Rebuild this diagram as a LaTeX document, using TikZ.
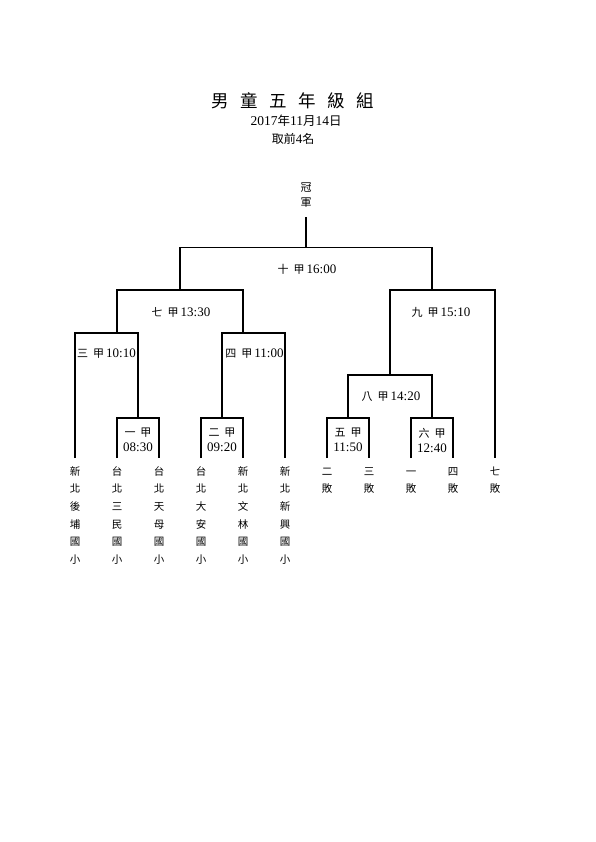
\documentclass[tikz,border=0pt]{standalone}
\usepackage{fontspec}
\setmainfont{Liberation Serif}
\newfontfamily\cjkf{Noto Sans CJK TC}
\newcommand\mlab[3]{{\cjkf\fontsize{11}{12}\selectfont #1\hspace{5pt}#2}\hspace{2pt}#3}
\newcommand\mtwo[3]{{\cjkf\fontsize{11}{12}\selectfont #1\hspace{5pt}#2}\\#3}
\newcommand\fstrut{\rule{0pt}{10pt}}
\begin{document}
\begin{tikzpicture}[x=1pt,y=-1pt,
  br/.style={line width=2pt},
  thinline/.style={line width=1pt},
  lab/.style={inner sep=0pt, align=center, font=\fontsize{13}{15}\selectfont},
  team/.style={anchor=north, inner sep=0pt, align=center, font=\cjkf\fontsize{10.5}{17.6}\selectfont}]
\useasboundingbox (0,0) rectangle (595,842);
% titles
\node[inner sep=0pt, font=\cjkf\fontsize{17.5}{18}\selectfont] (title) at (292.5,101)
  {男\hspace{11.5pt}童\hspace{11.5pt}五\hspace{11.5pt}年\hspace{11.5pt}級\hspace{11.5pt}組};
\node[inner sep=0pt, font=\fontsize{13.5}{16}\selectfont] (date) at (296,121)
  {2017{\cjkf\fontsize{12.5}{14}\selectfont 年}11{\cjkf\fontsize{12.5}{14}\selectfont 月}14{\cjkf\fontsize{12.5}{14}\selectfont 日}};
\node[inner sep=0pt, font=\cjkf\fontsize{12}{14}\selectfont] (top4) at (293,139)
  {取前{\fontspec{Liberation Serif}\fontsize{13}{14}\selectfont 4}名};
% champion
\node[inner sep=0pt, align=center, font=\cjkf\fontsize{11}{15}\selectfont] (champ) at (306,195.5) {冠\\軍};
\coordinate (ctop) at (306,217);
% teams
\node[team] (t1) at (75,465) {\fstrut 新\\北\\後\\埔\\國\\小};
\node[team] (t2) at (117,465) {\fstrut 台\\北\\三\\民\\國\\小};
\node[team] (t3) at (159,465) {\fstrut 台\\北\\天\\母\\國\\小};
\node[team] (t4) at (201,465) {\fstrut 台\\北\\大\\安\\國\\小};
\node[team] (t5) at (243,465) {\fstrut 新\\北\\文\\林\\國\\小};
\node[team] (t6) at (285,465) {\fstrut 新\\北\\新\\興\\國\\小};
\node[team] (t7) at (327,465) {\fstrut 二\\敗};
\node[team] (t8) at (369,465) {\fstrut 三\\敗};
\node[team] (t9) at (411,465) {\fstrut 一\\敗};
\node[team] (t10) at (453,465) {\fstrut 四\\敗};
\node[team] (t11) at (495,465) {\fstrut 七\\敗};
\foreach \i in {1,...,11} { \coordinate (l\i) at ([yshift=7pt]t\i.north); }
% match points
\coordinate (m1) at (138,418);
\coordinate (m2) at (222,418);
\coordinate (m5) at (348,418);
\coordinate (m6) at (432,418);
\coordinate (m3) at (117,333);
\coordinate (m4) at (243,333);
\coordinate (m8) at (390,375);
\coordinate (m7) at (180,290);
\coordinate (m9) at (432,290);
\coordinate (m10) at (306,247);
% brackets
\draw[br] (l2) |- (m1) -| (l3);
\draw[br] (l1) |- (m3) -| (m1);
\draw[br] (l4) |- (m2) -| (l5);
\draw[br] (m2) |- (m4) -| (l6);
\draw[br] (m3) |- (m7) -| (m4);
\draw[br] (l7) |- (m5) -| (l8);
\draw[br] (l9) |- (m6) -| (l10);
\draw[br] (m5) |- (m8) -| (m6);
\draw[br] (m8) |- (m9) -| (l11);
\draw[br] (m7) -- (m7 |- m10);
\draw[br] (m9) -- (m9 |- m10);
\draw[thinline] (m7 |- m10) -- (m9 |- m10);
\draw[br] (m10) -- (ctop);
% match labels
\node[lab] (n10) at (307,269) {\mlab{十}{甲}{16:00}};
\node[lab] (n7) at (181,312) {\mlab{七}{甲}{13:30}};
\node[lab] (n9) at (441,312) {\mlab{九}{甲}{15:10}};
\node[lab] (n3) at (106.5,354) {\mlab{三}{甲}{10:10}};
\node[lab] (n4) at (254.5,354) {\mlab{四}{甲}{11:00}};
\node[lab] (n8) at (391,397) {\mlab{八}{甲}{14:20}};
\node[lab] (n1) at (138,440) {\mtwo{一}{甲}{08:30}};
\node[lab] (n2) at (222,440) {\mtwo{二}{甲}{09:20}};
\node[lab] (n5) at (348,440) {\mtwo{五}{甲}{11:50}};
\node[lab] (n6) at (432,440) {\mtwo{六}{甲}{12:40}};
\end{tikzpicture}
\end{document}
